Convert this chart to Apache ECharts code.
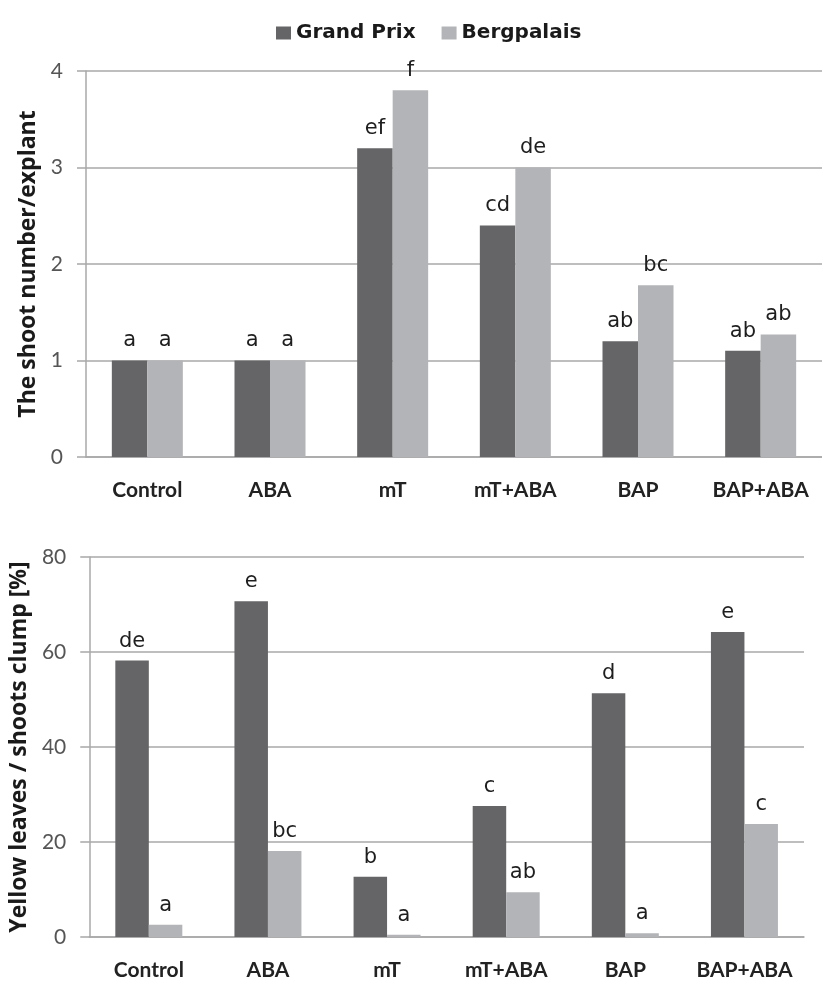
<!DOCTYPE html>
<html>
<head>
<meta charset="utf-8">
<script src="https://cdn.jsdelivr.net/npm/echarts@6/dist/echarts.min.js"></script>
<style>
html,body{margin:0;padding:0;background:#fff;}
#chart{width:822px;height:981px;}
</style>
</head>
<body>
<div id="chart"></div>
<script>
var categories = ['Control', 'ABA', 'mT', 'mT+ABA', 'BAP', 'BAP+ABA'];
var seriesNames = ['Grand Prix', 'Bergpalais'];

var shootGP = [1.0, 1.0, 3.2, 2.4, 1.2, 1.1];
var shootBP = [1.0, 1.0, 3.8, 3.0, 1.78, 1.27];
var shootLettersGP = ['a', 'a', 'ef', 'cd', 'ab', 'ab'];
var shootLettersBP = ['a', 'a', 'f', 'de', 'bc', 'ab'];

var yellowGP = [58.2, 70.7, 12.7, 27.6, 51.3, 64.2];
var yellowBP = [2.6, 18.1, 0.5, 9.4, 0.8, 23.8];
var yellowLettersGP = ['de', 'e', 'b', 'c', 'd', 'e'];
var yellowLettersBP = ['a', 'bc', 'a', 'ab', 'a', 'c'];

var shootTicks = [0, 1, 2, 3, 4];
var yellowTicks = [0, 20, 40, 60, 80];

var DARK = '#656567';
var LIGHT = '#b3b4b7';
var GRIDC = '#a8a8a8';

function letterLabel(letters) {
  return {
    show: true,
    position: 'top',
    distance: 9,
    fontFamily: 'DejaVu Sans',
    fontSize: 21,
    color: '#1e1e1e',
    formatter: function (p) { return letters[p.dataIndex]; }
  };
}

function xAx(gridIndex) {
  return {
    type: 'category',
    gridIndex: gridIndex,
    data: categories,
    axisLine: { show: true, lineStyle: { color: GRIDC, width: 1.5 } },
    axisTick: { show: false },
    axisLabel: {
      interval: 0,
      hideOverlap: false,
      margin: 23,
      fontFamily: 'Lato',
      fontWeight: 'bold',
      fontSize: 21,
      color: '#222'
    }
  };
}

function yAx(gridIndex, max, interval, name, gap, ticks) {
  return {
    type: 'value',
    gridIndex: gridIndex,
    min: ticks[0],
    max: max,
    interval: interval,
    name: name,
    nameLocation: 'middle',
    nameGap: gap,
    nameTextStyle: {
      fontFamily: 'Open Sans',
      fontWeight: 'bold',
      fontSize: 23,
      color: '#1a1a1a'
    },
    axisLine: { show: true, lineStyle: { color: GRIDC, width: 1.5 } },
    axisTick: { show: true, length: 9, lineStyle: { color: GRIDC, width: 1.5 } },
    splitLine: { show: true, lineStyle: { color: GRIDC, width: 1.5 } },
    axisLabel: {
      margin: 23,
      fontFamily: 'Lato',
      fontSize: 21,
      color: '#555'
    }
  };
}

var chart = echarts.init(document.getElementById('chart'));
chart.setOption({
  animation: false,
  backgroundColor: '#fff',
  legend: {
    data: seriesNames,
    left: 271,
    top: 18,
    itemWidth: 15,
    itemHeight: 13,
    itemGap: 26,
    icon: 'rect',
    textStyle: {
      fontFamily: 'DejaVu Sans',
      fontWeight: 'bold',
      fontSize: 20,
      color: '#1a1a1a'
    }
  },
  grid: [
    { left: 86, top: 71, width: 746, height: 386 },
    { left: 87, top: 557, width: 717, height: 384 }
  ],
  xAxis: [xAx(0), xAx(1)],
  yAxis: [
    yAx(0, shootTicks[shootTicks.length - 1], 1, 'The shoot number/explant', 44, shootTicks),
    yAx(1, yellowTicks[yellowTicks.length - 1], 20, 'Yellow leaves / shoots clump [%]', 54, yellowTicks)
  ],
  series: [
    {
      name: seriesNames[0], type: 'bar', xAxisIndex: 0, yAxisIndex: 0,
      data: shootGP, barWidth: 35.5, barGap: '0%',
      itemStyle: { color: DARK }, label: letterLabel(shootLettersGP)
    },
    {
      name: seriesNames[1], type: 'bar', xAxisIndex: 0, yAxisIndex: 0,
      data: shootBP, barWidth: 35.5, barGap: '0%',
      itemStyle: { color: LIGHT }, label: letterLabel(shootLettersBP)
    },
    {
      name: seriesNames[0], type: 'bar', xAxisIndex: 1, yAxisIndex: 1,
      data: yellowGP, barWidth: 33.5, barGap: '0%',
      itemStyle: { color: DARK }, label: letterLabel(yellowLettersGP)
    },
    {
      name: seriesNames[1], type: 'bar', xAxisIndex: 1, yAxisIndex: 1,
      data: yellowBP, barWidth: 33.5, barGap: '0%',
      itemStyle: { color: LIGHT }, label: letterLabel(yellowLettersBP)
    }
  ]
});
</script>
</body>
</html>
